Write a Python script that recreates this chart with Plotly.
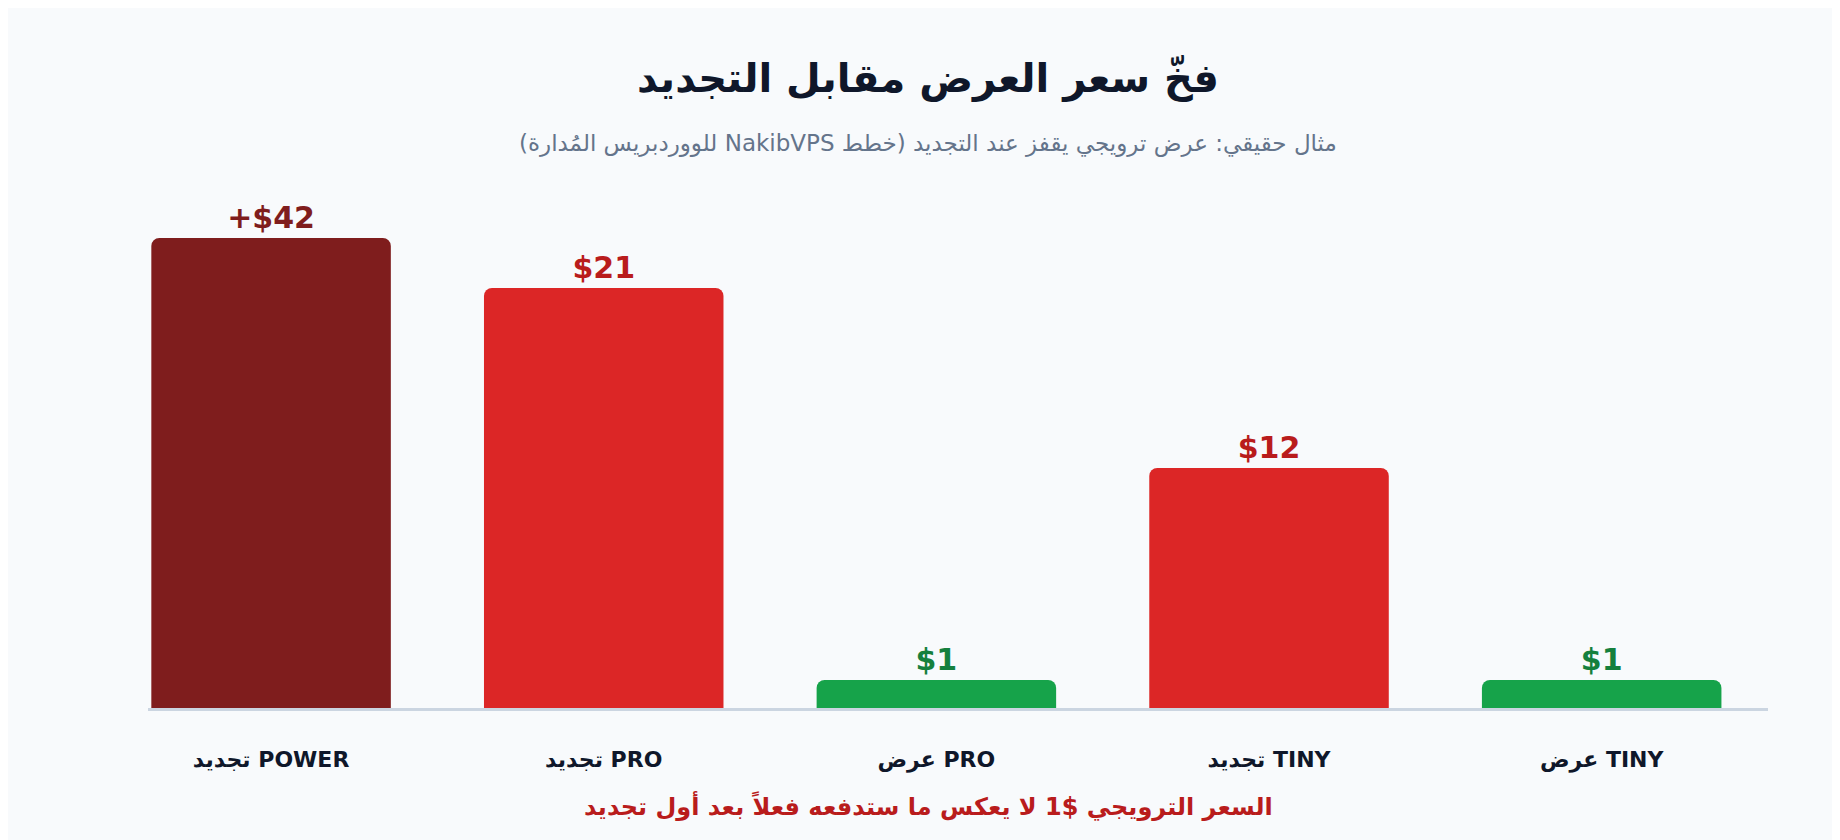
import plotly.graph_objects as go

# بيانات الرسم
categories = ["تجديد POWER", "تجديد PRO", "عرض PRO", "تجديد TINY", "عرض TINY"]
bar_heights = [23.5, 21, 1.4, 12, 1.4]  # ارتفاع الأعمدة كما يظهر (عمود POWER مقصوص)
price_labels = ["+$42", "$21", "$1", "$12", "$1"]
bar_colors = ["#7f1d1d", "#dc2626", "#16a34a", "#dc2626", "#16a34a"]
label_colors = ["#7f1d1d", "#b91c1c", "#15803d", "#b91c1c", "#15803d"]

RLE, PDF = "\u202b", "\u202c"
title = "فخّ سعر العرض مقابل التجديد"
subtitle = "مثال حقيقي: عرض ترويجي يقفز عند التجديد (خطط NakibVPS للووردبريس المُدارة)"
note = "السعر الترويجي $1 لا يعكس ما ستدفعه فعلاً بعد أول تجديد"

fig = go.Figure()
fig.add_trace(go.Bar(
    x=categories,
    y=bar_heights,
    width=0.72,
    marker=dict(color=bar_colors, cornerradius=8, line=dict(width=0)),
    text=price_labels,
    textposition="outside",
    textfont=dict(size=30, color=label_colors, family="DejaVu Sans", weight="bold"),
    cliponaxis=False,
    hoverinfo="skip",
))

fig.update_layout(
    width=1840, height=840,
    paper_bgcolor="#f8fafc", plot_bgcolor="#f8fafc",
    margin=dict(l=140, r=80, t=140, b=140),
    font=dict(family="DejaVu Sans", color="#0f172a"),
    showlegend=False,
    xaxis=dict(
        showgrid=False, zeroline=False, showline=True, linecolor="#cbd5e1", linewidth=3,
        tickfont=dict(size=22, color="#0f172a", weight="bold"), ticks="", ticklabelstandoff=30,
        range=[-0.37, 4.5],
    ),
    yaxis=dict(visible=False, range=[0, 28]),
    annotations=[
        dict(text=RLE + title + PDF, y=70, showarrow=False,
             font=dict(size=40, color="#0f172a", weight="bold")),
        dict(text=RLE + subtitle + PDF, y=135, showarrow=False,
             font=dict(size=23, color="#64748b")),
        dict(text=RLE + note + PDF, y=798, showarrow=False,
             font=dict(size=24, color="#b91c1c", weight="bold")),
    ],
)

# تحويل مواقع النصوص من البكسل إلى إحداثيات الورقة
plot_h = 840 - 140 - 140
for a in fig.layout.annotations:
    a.xref = "paper"
    a.yref = "paper"
    a.x = (920 - 140) / (1840 - 220)
    a.y = (840 - 140 - a.y) / plot_h
    a.yanchor = "middle"

fig.write_html("out.html")
